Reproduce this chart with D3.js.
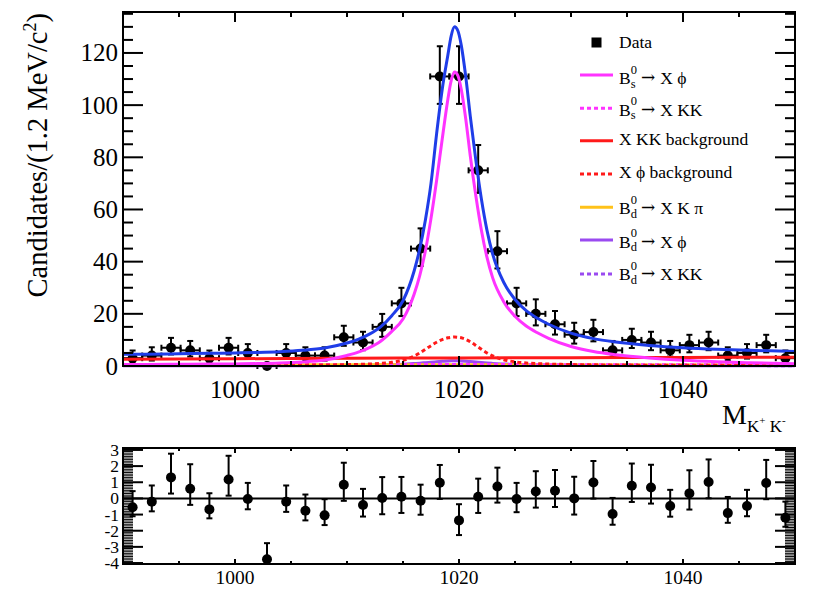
<!DOCTYPE html>
<html><head><meta charset="utf-8">
<script src="https://cdn.jsdelivr.net/npm/d3@7"></script>
<style>
body{margin:0;background:#fff;}
svg{display:block;font-family:"Liberation Serif","Times New Roman","DejaVu Serif",serif;}
</style>
</head><body>
<svg id="c" width="829" height="596"></svg>
<script>
// ---------------- DATA ----------------
const binCenters = [990.857,992.571,994.286,996.0,997.714,999.429,1001.143,1002.857,1004.571,1006.286,
  1008.0,1009.714,1011.429,1013.143,1014.857,1016.571,1018.286,1020.0,1021.714,1023.429,
  1025.143,1026.857,1028.571,1030.286,1032.0,1033.714,1035.429,1037.143,1038.857,1040.571,
  1042.286,1044.0,1045.714,1047.429,1049.143];
const binHalfWidth = 0.857;
const counts = [3,4,7,6,3,7,5,0,5,4, 4,11,9,15,24,45,111,111,75,44, 24,20,16,12,13,6,10,9,6,8, 9,4,5,8,3];
const pulls = [-0.55,-0.2,1.3,0.6,-0.68,1.17,-0.04,-3.77,-0.2,-0.76,
  -1.05,0.85,-0.41,0.02,0.1,-0.15,0.97,-1.36,0.1,0.74,
  -0.04,0.43,0.47,0.0,0.99,-0.97,0.78,0.68,-0.47,0.31,
  1.01,-0.91,-0.47,0.95,-1.2];

// model curves (sampled)
const peakMass = [990,992,995,998,1000,1002,1004,1006,1008,1010,1011,1012,1013,1014,1015,1016,1016.5,1017,1017.5,1018,
  1018.5,1019,1019.3,1019.6,1019.9,1020.2,1020.6,1021,1021.5,1022,1022.5,1023,1024,1025,1026,1027,1028,1030,1032,1034,
  1037,1040,1043,1046,1050];
const totalFit = [4.5,4.55,4.7,4.85,5.0,5.2,5.5,6.0,6.9,8.8,10.2,12.2,15.0,19.3,25.0,36.5,45,56,70,89,
  106,119,126.5,130,128.5,123,111,96,79,64,52,43,32,25.5,21.2,18.3,16.0,12.6,10.5,9.2,
  7.9,7.0,6.4,6.0,5.6];
const bsXphi = [0.6,0.61,0.66,0.72,0.8,0.93,1.16,1.57,2.33,4.05,5.29,7.07,9.52,13.29,17.99,27.61,34.75,44.16,56.59,71.11,
  86.94,102.09,109.34,112.7,111.32,106.07,94.76,80.79,65.36,52.05,41.62,33.87,24.58,19.05,15.31,12.73,10.63,7.49,5.53,4.31,
  3.07,2.2,1.64,1.26,0.87];
const xphiBkg = [0.15,0.15,0.18,0.2,0.22,0.25,0.28,0.32,0.4,0.5,0.6,0.75,1.0,1.4,2.2,3.8,5.0,6.4,7.8,9.1,
  10.1,10.8,11.0,11.1,11.0,10.8,10.2,9.3,7.9,6.4,5.0,3.9,2.4,1.6,1.15,0.9,0.75,0.55,0.45,0.38,
  0.32,0.28,0.25,0.22,0.2];
const bdXphi = [0.05,0.05,0.06,0.07,0.08,0.09,0.1,0.12,0.15,0.2,0.24,0.3,0.38,0.5,0.68,0.95,1.1,1.28,1.45,1.62,
  1.78,1.92,1.97,2.0,1.98,1.93,1.83,1.7,1.52,1.33,1.15,1.0,0.78,0.6,0.48,0.4,0.34,0.26,0.2,0.17,
  0.14,0.12,0.1,0.09,0.08];
const flatMass = [990,1000,1010,1020,1030,1040,1050];
const xkkBkg = [2.6,2.8,2.95,3.1,3.2,3.3,3.35];
const bdXKpi = [0.5,0.48,0.47,0.45,0.43,0.42,0.4];
const bsXKK = [0.45,0.5,0.52,0.53,0.52,0.5,0.48];
const bdXKK = [0.15,0.15,0.16,0.16,0.15,0.15,0.14];

const xTicks = [1000,1020,1040];
const yTicks = [0,20,40,60,80,100,120];
const pullTicks = [3,2,1,0,-1,-2,-3,-4];

const legendItems = [
  {type:"marker", label:"Data"},
  {type:"line", color:"#ff33ff", dash:null, pre:"B", sup:"0", sub:"s", post:"X \u03d5"},
  {type:"line", color:"#ff33ff", dash:"4,3", pre:"B", sup:"0", sub:"s", post:"X KK"},
  {type:"line", color:"#ff1a1a", dash:null, label:"X KK background"},
  {type:"line", color:"#ff1a1a", dash:"4,3", label:"X \u03d5 background"},
  {type:"line", color:"#ffc21a", dash:null, pre:"B", sup:"0", sub:"d", post:"X K \u03c0"},
  {type:"line", color:"#9a4af0", dash:null, pre:"B", sup:"0", sub:"d", post:"X \u03d5"},
  {type:"line", color:"#9a4af0", dash:"4,3", pre:"B", sup:"0", sub:"d", post:"X KK"}
];

// ---------------- LAYOUT ----------------
const svg = d3.select("#c");
const F = {l:123, r:795, t:12, b:366};
const P = {l:123, r:795, t:448, b:564};
const x = d3.scaleLinear().domain([990,1050]).range([F.l,F.r]);
const y = d3.scaleLinear().domain([0,135.7]).range([F.b,F.t]);
const yp = d3.scaleLinear().domain([-4.06,3.12]).range([P.b,P.t]);

function errHi(n){ return n===0 ? 1.148 : 1+Math.sqrt(n+0.75); }
function errLo(n){ if(n===0) return 0; const t=1-1/(9*n)-1/(3*Math.sqrt(n)); return n-n*t*t*t; }

// ---------------- MAIN PLOT ----------------
const gm = svg.append("g");

// data points
const dg = gm.append("g").attr("stroke","#000").attr("stroke-width",2);
binCenters.forEach((m,i)=>{
  const n = counts[i];
  const cx = x(m), cy = y(n);
  const yT = y(n+errHi(n)), yB = y(Math.max(0,n-errLo(n)));
  const xl = x(m-binHalfWidth), xr = x(m+binHalfWidth);
  dg.append("line").attr("x1",cx).attr("x2",cx).attr("y1",yT).attr("y2",yB);
  dg.append("line").attr("x1",cx-3).attr("x2",cx+3).attr("y1",yT).attr("y2",yT);
  if(n>0) dg.append("line").attr("x1",cx-3).attr("x2",cx+3).attr("y1",yB).attr("y2",yB);
  dg.append("line").attr("x1",xl).attr("x2",xr).attr("y1",cy).attr("y2",cy);
  dg.append("line").attr("x1",xl).attr("x2",xl).attr("y1",cy-3).attr("y2",cy+3);
  dg.append("line").attr("x1",xr).attr("x2",xr).attr("y1",cy-3).attr("y2",cy+3);
  dg.append("circle").attr("cx",cx).attr("cy",cy).attr("r",5).attr("fill","#000").attr("stroke","none");
});

// curves
const lineGen = d3.line().x(d=>x(d[0])).y(d=>y(d[1])).curve(d3.curveMonotoneX);
function drawCurve(xs, ys, color, dash){
  gm.append("path").datum(xs.map((v,i)=>[v,ys[i]]))
    .attr("d",lineGen).attr("fill","none").attr("stroke",color).attr("stroke-width",3)
    .attr("stroke-dasharray",dash||null);
}
drawCurve(flatMass, bdXKK, "#9a4af0", "4,3");
drawCurve(peakMass, bdXphi, "#9a4af0", null);
drawCurve(flatMass, bdXKpi, "#ffc21a", null);
drawCurve(flatMass, bsXKK, "#ff33ff", "4,3");
drawCurve(peakMass, xphiBkg, "#ff1a1a", "4,3");
drawCurve(flatMass, xkkBkg, "#ff1a1a", null);
drawCurve(peakMass, bsXphi, "#ff33ff", null);
drawCurve(peakMass, totalFit, "#1f3de8", null);

// frame & ticks
const ax = svg.append("g").attr("stroke","#000");
ax.append("rect").attr("x",F.l).attr("y",F.t).attr("width",F.r-F.l).attr("height",F.b-F.t)
  .attr("fill","none").attr("stroke-width",2);
d3.range(990,1050.01,5).forEach(v=>{
  const major = xTicks.includes(v);
  const L = major?10:5;
  ax.append("line").attr("x1",x(v)).attr("x2",x(v)).attr("y1",F.b).attr("y2",F.b-L).attr("stroke-width",2);
  ax.append("line").attr("x1",x(v)).attr("x2",x(v)).attr("y1",F.t).attr("y2",F.t+L).attr("stroke-width",2);
});
d3.range(0,135.7,5).forEach(v=>{
  const major = yTicks.includes(v);
  const L = major?20:10;
  ax.append("line").attr("x1",F.l).attr("x2",F.l+L).attr("y1",y(v)).attr("y2",y(v)).attr("stroke-width",2);
  ax.append("line").attr("x1",F.r).attr("x2",F.r-L).attr("y1",y(v)).attr("y2",y(v)).attr("stroke-width",2);
});

const tg = svg.append("g").attr("fill","#000");
xTicks.forEach(v=>{
  tg.append("text").attr("x",x(v)).attr("y",398).attr("text-anchor","middle")
    .attr("font-size",25).text(v);
});
yTicks.forEach(v=>{
  tg.append("text").attr("x",118).attr("y",y(v)+8.5).attr("text-anchor","end")
    .attr("font-size",25).text(v);
});
// y title
const yt = tg.append("text").attr("transform","translate(47,13) rotate(-90)")
  .attr("text-anchor","end").attr("font-size",28.5);
yt.append("tspan").text("Candidates/(1.2 MeV/c");
yt.append("tspan").attr("font-size",18).attr("dy",-11).text("2");
yt.append("tspan").attr("dy",11).text(")");
// x title
const xt = tg.append("text").attr("x",722).attr("y",424).attr("font-size",28);
xt.append("tspan").text("M");
xt.append("tspan").attr("font-size",17).attr("dy",8).text("K");
xt.append("tspan").attr("font-size",11).attr("dy",-8).text("+");
xt.append("tspan").attr("font-size",17).attr("dy",8).text(" K");
xt.append("tspan").attr("font-size",11).attr("dy",-8).text("-");

// legend
const lg = svg.append("g");
const rowLine = [42.5,75,108.3,140.7,174,207.3,240,274];
const rowBase = [48.3,84,115.7,145.3,178.3,214.3,247.7,280];
legendItems.forEach((it,i)=>{
  if(it.type==="marker"){
    lg.append("rect").attr("x",591.5).attr("y",rowLine[i]-5).attr("width",10).attr("height",10).attr("fill","#000");
  } else {
    lg.append("line").attr("x1",580).attr("x2",613).attr("y1",rowLine[i]).attr("y2",rowLine[i])
      .attr("stroke",it.color).attr("stroke-width",3).attr("stroke-dasharray",it.dash||null);
  }
  const x0 = 619, fs = 17.5;
  if(it.label){
    lg.append("text").attr("x",x0).attr("y",rowBase[i]).attr("font-size",fs).text(it.label);
  } else {
    const tB = lg.append("text").attr("x",x0).attr("y",rowBase[i]).attr("font-size",fs).text(it.pre);
    const wB = tB.node().getComputedTextLength();
    const tSup = lg.append("text").attr("x",x0+wB).attr("y",rowBase[i]-10.5).attr("font-size",12.5).text(it.sup);
    const tSub = lg.append("text").attr("x",x0+wB).attr("y",rowBase[i]+3.5).attr("font-size",12.5).text(it.sub);
    const wS = Math.max(tSup.node().getComputedTextLength(), tSub.node().getComputedTextLength());
    const tArr = lg.append("text").attr("x",x0+wB+wS+4).attr("y",rowBase[i]-1).attr("font-size",17)
      .style("font-family","'DejaVu Serif',serif").text("\u2192");
    const wA = tArr.node().getComputedTextLength();
    lg.append("text").attr("x",x0+wB+wS+4+wA+5).attr("y",rowBase[i]).attr("font-size",fs)
      .style("white-space","pre").text(it.post);
  }
});

// ---------------- PULL PLOT ----------------
const pg = svg.append("g");
pg.append("line").attr("x1",P.l).attr("x2",P.r).attr("y1",yp(0)).attr("y2",yp(0))
  .attr("stroke","#000").attr("stroke-width",2);
const pd = pg.append("g").attr("stroke","#000").attr("stroke-width",2);
binCenters.forEach((m,i)=>{
  const n = counts[i], p = pulls[i];
  const hi = errHi(n), lo = errLo(n);
  let up, dn;
  if(p>=0){ dn = 1; up = lo>0 ? hi/lo : 1; } else { up = 1; dn = lo/hi; }
  const cx = x(m);
  const yT = yp(Math.min(3.12,p+up)), yB = yp(Math.max(-4.06,p-dn));
  pd.append("line").attr("x1",cx).attr("x2",cx).attr("y1",yT).attr("y2",yB);
  pd.append("line").attr("x1",cx-3).attr("x2",cx+3).attr("y1",yT).attr("y2",yT);
  pd.append("line").attr("x1",cx-3).attr("x2",cx+3).attr("y1",yB).attr("y2",yB);
  pd.append("circle").attr("cx",cx).attr("cy",yp(p)).attr("r",5).attr("fill","#000").attr("stroke","none");
});
const pa = svg.append("g").attr("stroke","#000");
pa.append("rect").attr("x",P.l).attr("y",P.t).attr("width",P.r-P.l).attr("height",P.b-P.t)
  .attr("fill","none").attr("stroke-width",2);
d3.range(990,1050.01,5).forEach(v=>{
  const major = xTicks.includes(v);
  const L = major?5:3;
  pa.append("line").attr("x1",x(v)).attr("x2",x(v)).attr("y1",P.b).attr("y2",P.b-L).attr("stroke-width",2);
  pa.append("line").attr("x1",x(v)).attr("x2",x(v)).attr("y1",P.t).attr("y2",P.t+L).attr("stroke-width",2);
});
d3.range(-40,31,1).forEach(k=>{
  const v = k/10;
  const major = (k%10===0);
  const L = major?20:10;
  pa.append("line").attr("x1",P.l).attr("x2",P.l+L).attr("y1",yp(v)).attr("y2",yp(v)).attr("stroke-width",major?2:1);
  pa.append("line").attr("x1",P.r).attr("x2",P.r-L).attr("y1",yp(v)).attr("y2",yp(v)).attr("stroke-width",major?2:1);
});
const pt = svg.append("g").attr("fill","#000");
xTicks.forEach(v=>{
  pt.append("text").attr("x",x(v)).attr("y",584).attr("text-anchor","middle").attr("font-size",19.5).text(v);
});
pullTicks.forEach(v=>{
  pt.append("text").attr("x",119).attr("y",yp(v)+6).attr("text-anchor","end").attr("font-size",17.5).text(v);
});
</script>
</body></html>
